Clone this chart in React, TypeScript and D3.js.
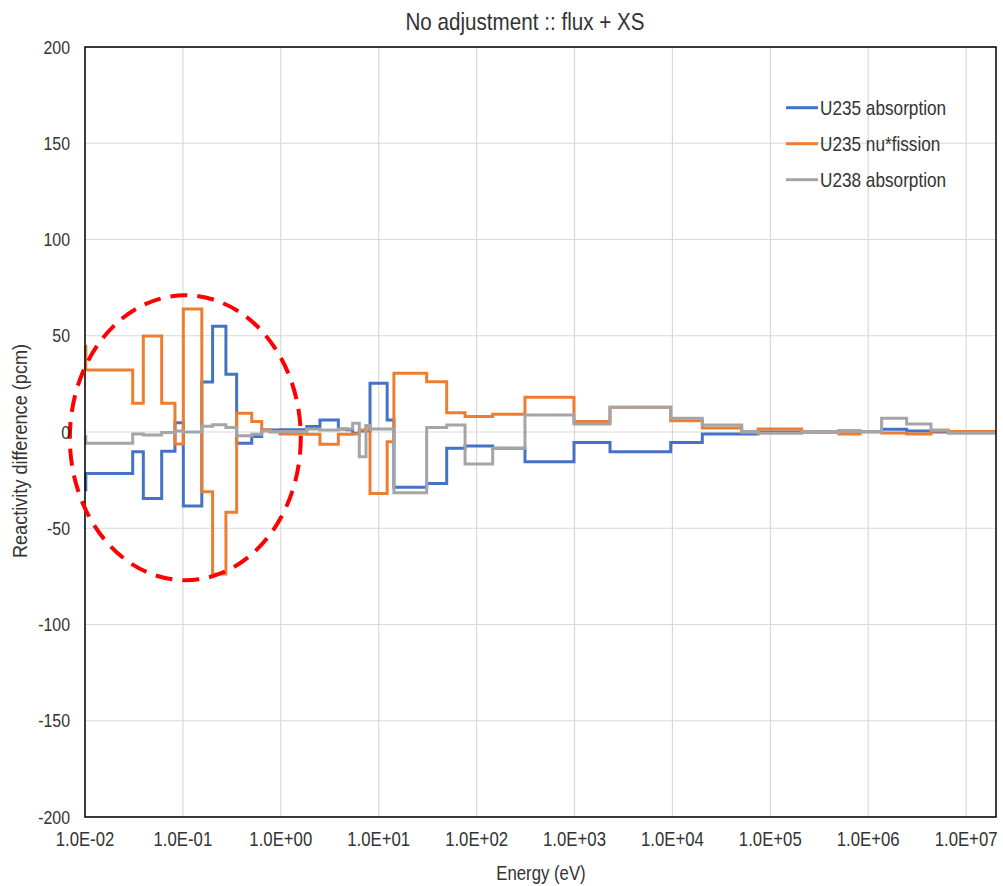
import React from "react";
import * as d3 from "d3";

// Energy group boundaries (eV) shared by all three series
const groupEdges: number[] = [
  1.0e-2, 1.02e-2, 3.07e-2, 3.94e-2, 6.07e-2, 8.3e-2, 1.01e-1, 1.56e-1, 2.01e-1,
  2.75e-1, 3.54e-1, 5.05e-1, 6.38e-1, 7.77e-1, 9.8e-1, 1.84, 2.51, 3.87, 4.71,
  5.42, 6.34, 7.42, 8.15, 12.2, 14.3, 30.9, 49.5, 76.2, 146, 312, 988, 2305,
  9610, 2.02e4, 5.1e4, 7.5e4, 2.09e5, 5.03e5, 8.24e5, 1.37e6, 2.47e6, 4.38e6,
  6.58e6, 2.0e7,
];

// Reactivity difference per group (pcm)
const u235Absorption: number[] = [
  -30, -21.5, -10.2, -34.5, -10, 4.8, -38.4, 26, 55, 30, -5.9, -2.4, 1, 1, 1.2,
  2.8, 6.2, 1.5, 1.2, -0.7, 0.5, 0.5, 25.3, 6.2, -28.7, -26.7, -8.5, -7.3, -8.5,
  -15.4, -5.4, -10.2, -5.4, -1, -1, 0, 0, 0.5, 0.3, 1.4, 0.5, 0, 0,
];

const u235NuFission: number[] = [
  44.5, 32.2, 14.9, 49.9, 14.9, -6.2, 63.9, -31, -73.8, -41.7, 9.7, 5.4, 1, 0,
  -1, -1.2, -6.4, -1.2, -1.2, -1, 1, 3, -31.9, -5, 30.5, 26.1, 10, 8, 9.2, 18,
  5.4, 12.8, 5.9, 2.1, -0.3, 1.5, 0, -1, 0, -0.5, -1, 0.5, 0.3,
];

const u238Absorption: number[] = [
  -2.4, -5.9, -1, -1.5, -0.3, 0.5, 0, 3, 3.8, 2.4, -2, -1.2, 0.5, 0.2, 0.2, 1.5,
  1, 1.5, 1.5, 4.5, -12.8, 3.4, 1.5, 1.5, -31.5, 2.4, 3.6, -16.6, -8.5, 8.8,
  4.2, 12.8, 7.1, 3.6, 0.2, -0.7, 0, 0.7, 0.3, 7.1, 4.2, 1, -0.7,
];

const seriesNames: string[] = ["U235 absorption", "U235 nu*fission", "U238 absorption"];
const seriesColors: string[] = ["#4472C4", "#ED7D31", "#A5A5A5"];
const seriesValues: number[][] = [u235Absorption, u235NuFission, u238Absorption];

const xTickValues: number[] = [1e-2, 1e-1, 1e0, 1e1, 1e2, 1e3, 1e4, 1e5, 1e6, 1e7];
const yTickValues: number[] = [-200, -150, -100, -50, 0, 50, 100, 150, 200];

// Highlighted thermal region (energy and pcm bounds of the dashed ellipse)
const highlightEnergy: number[] = [0.007, 1.6];
const highlightPcm: number[] = [-77, 71];

const W = 1003;
const H = 886;
const M = { left: 85, right: 996, top: 47, bottom: 817 };
const FONT = "'Liberation Sans', Arial, sans-serif";
const SX = 0.86;
const TEXT = "#333333";

const fmtExp = (v: number) => {
  const e = Math.round(Math.log10(v));
  const sign = e < 0 ? "-" : "+";
  return `1.0E${sign}${String(Math.abs(e)).padStart(2, "0")}`;
};

export default function App() {
  const x = d3.scaleLog().domain([1e-2, 2.02e7]).range([M.left, M.right]);
  const y = d3.scaleLinear().domain([-200, 200]).range([M.bottom, M.top]);

  const line = d3
    .line<[number, number]>()
    .x((d) => x(d[0]))
    .y((d) => y(d[1]))
    .curve(d3.curveStepAfter);

  const stepPoints = (vals: number[]): [number, number][] => {
    const pts: [number, number][] = vals.map((v, i) => [groupEdges[i], v]);
    pts.push([groupEdges[vals.length], vals[vals.length - 1]]);
    return pts;
  };

  const ex0 = x(highlightEnergy[0]);
  const ex1 = x(highlightEnergy[1]);
  const ey0 = y(highlightPcm[1]);
  const ey1 = y(highlightPcm[0]);

  return (
    <svg
      width={W}
      height={H}
      style={{ position: "absolute", left: 0, top: 0, background: "#fff" }}
      fontFamily={FONT}
    >
      <rect x={0} y={0} width={W} height={H} fill="#fff" />

      {/* gridlines */}
      {yTickValues.map((t) => (
        <line key={`gy${t}`} x1={M.left} x2={M.right} y1={y(t)} y2={y(t)} stroke="#d9d9d9" strokeWidth={1.2} />
      ))}
      {xTickValues.map((t) => (
        <line key={`gx${t}`} x1={x(t)} x2={x(t)} y1={M.top} y2={M.bottom} stroke="#d9d9d9" strokeWidth={1.2} />
      ))}

      {/* series */}
      {seriesValues.map((vals, i) => (
        <path
          key={seriesNames[i]}
          d={line(stepPoints(vals)) || ""}
          fill="none"
          stroke={seriesColors[i]}
          strokeWidth={3}
          strokeLinejoin="miter"
        />
      ))}

      {/* plot frame */}
      <rect
        x={M.left}
        y={M.top}
        width={M.right - M.left}
        height={M.bottom - M.top}
        fill="none"
        stroke="#000"
        strokeWidth={1.5}
      />

      {/* highlighted region */}
      <ellipse
        cx={(ex0 + ex1) / 2}
        cy={(ey0 + ey1) / 2}
        rx={(ex1 - ex0) / 2}
        ry={(ey1 - ey0) / 2}
        fill="none"
        stroke="#FF0000"
        strokeWidth={4}
        strokeDasharray="17 10"
      />

      {/* y ticks */}
      {yTickValues.map((t) => (
        <text
          key={`ty${t}`}
          transform={`translate(70,${y(t) + 6.5}) scale(${SX},1)`}
          textAnchor="end"
          fontSize={18.5}
          fill={TEXT}
        >
          {t}
        </text>
      ))}

      {/* x ticks */}
      {xTickValues.map((t) => (
        <text
          key={`tx${t}`}
          transform={`translate(${x(t)},846) scale(${SX},1)`}
          textAnchor="middle"
          fontSize={19.5}
          fill={TEXT}
        >
          {fmtExp(t)}
        </text>
      ))}

      {/* title */}
      <text transform={`translate(525,30) scale(${SX},1)`} textAnchor="middle" fontSize={24} fill={TEXT}>
        No adjustment :: flux + XS
      </text>

      {/* axis titles */}
      <text transform={`translate(541,880) scale(${SX},1)`} textAnchor="middle" fontSize={19.5} fill={TEXT}>
        Energy (eV)
      </text>
      <text
        transform={`translate(27,451) rotate(-90) scale(0.93,1)`}
        textAnchor="middle"
        fontSize={19.5}
        fill={TEXT}
      >
        Reactivity difference (pcm)
      </text>

      {/* legend */}
      {seriesNames.map((name, i) => {
        const ly = 107.7 + i * 36;
        return (
          <g key={`lg${name}`}>
            <line x1={786} x2={818} y1={ly} y2={ly} stroke={seriesColors[i]} strokeWidth={3} />
            <text transform={`translate(820,${ly + 7}) scale(${SX},1)`} fontSize={20} fill={TEXT}>
              {name}
            </text>
          </g>
        );
      })}
    </svg>
  );
}
